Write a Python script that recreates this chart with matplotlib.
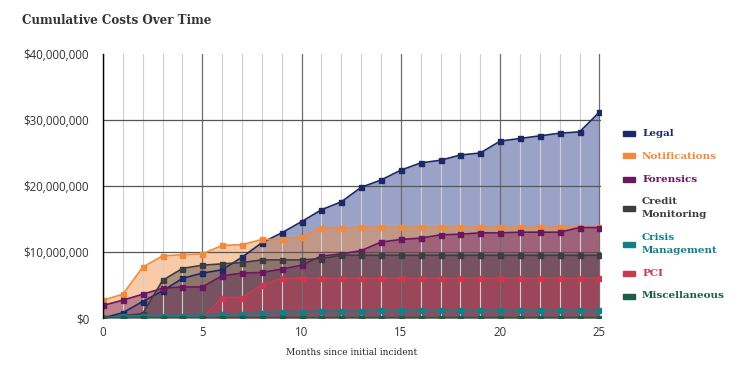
import matplotlib.pyplot as plt
import numpy as np
from matplotlib.patches import Rectangle
from matplotlib.ticker import FuncFormatter, MultipleLocator

months = list(range(26))

# valors en milions de dolars
legal = [0.0, 0.8, 2.5, 4.1, 6.0, 6.8, 7.3, 9.2, 11.4, 12.9, 14.6, 16.4, 17.6,
         19.8, 20.9, 22.4, 23.5, 23.9, 24.7, 25.0, 26.8, 27.2, 27.6, 28.0, 28.2, 31.2]
notifications = [2.7, 3.6, 7.7, 9.4, 9.6, 9.7, 11.0, 11.1, 11.9, 11.9, 12.3, 13.7, 13.6,
                 13.8, 13.8, 13.8, 13.8, 13.8, 13.8, 13.8, 13.8, 13.8, 13.8, 13.8, 13.8, 13.85]
forensics = [1.9, 2.7, 3.6, 4.5, 4.7, 4.7, 6.4, 6.8, 6.9, 7.4, 8.0, 9.4, 9.7,
             10.2, 11.5, 11.9, 12.1, 12.6, 12.7, 12.9, 12.9, 13.0, 13.0, 13.0, 13.7, 13.7]
credit = [0.0, 0.35, 0.65, 5.7, 7.5, 8.0, 8.2, 8.4, 8.8, 8.8, 8.8, 9.0, 9.5,
          9.5, 9.5, 9.5, 9.5, 9.5, 9.5, 9.5, 9.5, 9.5, 9.5, 9.5, 9.5, 9.5]
crisis = [0.0, 0.3, 0.35, 0.35, 0.35, 0.4, 0.6, 0.6, 0.8, 0.95, 0.95, 1.05, 1.1,
          1.1, 1.15, 1.15, 1.15, 1.15, 1.15, 1.15, 1.15, 1.15, 1.15, 1.15, 1.15, 1.15]
pci = [0.0, 0.0, 0.0, 0.0, 0.0, 0.0, 3.1, 3.1, 5.0, 6.0, 6.0, 6.0, 6.0,
       6.0, 6.0, 6.0, 6.0, 6.0, 6.0, 6.0, 6.0, 6.0, 6.0, 6.0, 6.0, 6.0]
misc = [0.0, 0.0, 0.0, 0.0, 0.0, 0.0, 0.05, 0.05, 0.05, 0.05, 0.05, 0.05, 0.05,
        0.05, 0.05, 0.05, 0.05, 0.05, 0.05, 0.05, 0.05, 0.05, 0.05, 0.05, 0.05, 0.05]

noms = ['Legal', 'Notifications', 'Forensics', 'Credit\nMonitoring',
        'Crisis\nManagement', 'PCI', 'Miscellaneous']
series = [legal, notifications, forensics, credit, crisis, pci, misc]
colors = ['#1b2a66', '#f08a3c', '#6b1660', '#3d3d40', '#12808a', '#c93a50', '#1d5c45']
fills = ['#2c3a88', '#f08a3c', '#6b1660', '#3d3d40', '#12808a', '#c93a50', '#1d5c45']
alphas = [0.47, 0.45, 0.4, 0.4, 0.4, 0.45, 0.4]

fig = plt.figure(figsize=(7.41, 3.73), dpi=100)
ax = fig.add_axes([103/741, 1-318/373, 498/741, 264/373])

x = np.array(months)
for vals, fc, a in zip(series, fills, alphas):
    v = np.array(vals) * 1e6
    ax.fill_between(x, 0, v, color=fc, alpha=a, linewidth=0, zorder=1)
for vals, c in zip(series, colors):
    v = np.array(vals) * 1e6
    ax.plot(x, v, color=c, lw=1.2, marker='s', markersize=3.6, zorder=3)

ax.set_xlim(0, 25.08)
ax.set_ylim(0, 40e6)
ax.xaxis.set_major_locator(MultipleLocator(5))
ax.xaxis.set_minor_locator(MultipleLocator(1))
ax.yaxis.set_major_locator(MultipleLocator(10e6))
ax.yaxis.set_major_formatter(FuncFormatter(lambda v, p: '${:,.0f}'.format(v)))
ax.grid(which='minor', axis='x', color='#cfcfcf', lw=0.8, zorder=1.5)
ax.grid(which='major', axis='x', color='#6e6e6e', lw=0.9, zorder=1.6)
for yv in [0, 10e6, 20e6, 30e6]:
    ax.axhline(yv, color='#555555', lw=0.9, zorder=1.6)
for s in ['top', 'right', 'bottom']:
    ax.spines[s].set_visible(False)
ax.spines['left'].set_color('black')
ax.spines['left'].set_linewidth(1.0)
ax.spines['left'].set_zorder(4)
ax.tick_params(which='both', length=0, labelsize=8.3, labelcolor='#333333')
ax.tick_params(axis='y', pad=10)
ax.tick_params(axis='x', pad=6)
for lab in ax.get_xticklabels() + ax.get_yticklabels():
    lab.set_family('Open Sans')

ax.set_xlabel('Months since initial incident', family='DejaVu Serif', fontsize=6.5,
              color='#222222', labelpad=6)
fig.text(22/741, 1-20/373, 'Cumulative Costs Over Time', family='DejaVu Serif',
         fontsize=8.6, fontweight='bold', color='#333333', va='center')

# llegenda feta a ma
leg_y = [133, 156, 179, 208, 244, 273, 296]
for n, c, yp in zip(noms, colors, leg_y):
    fig.patches.append(Rectangle((623/741, 1-(yp+2.5)/373), 12/741, 5/373,
                                 color=c, transform=fig.transFigure, figure=fig))
    fig.text(642/741, 1-yp/373, n, family='DejaVu Serif', fontsize=7.5,
             fontweight='bold', color=c, va='center', linespacing=1.45)

plt.savefig('out.png', dpi=100)
